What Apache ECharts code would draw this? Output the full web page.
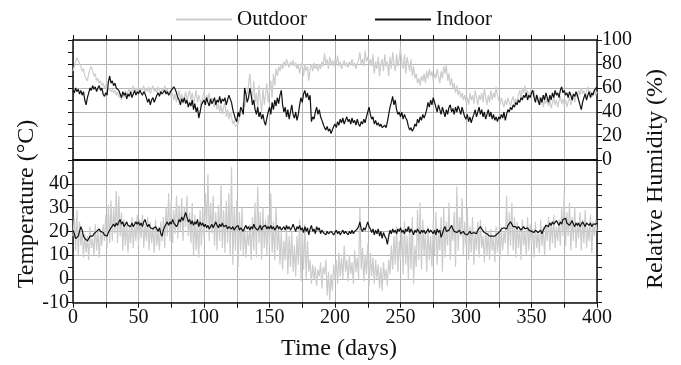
<!DOCTYPE html>
<html>
<head>
<meta charset="utf-8">
<script src="https://cdn.jsdelivr.net/npm/echarts@6/dist/echarts.min.js"></script>
<style>html,body{margin:0;padding:0;background:#fff;}#c{width:681px;height:365px;}</style>
</head>
<body>
<div id="c"></div>
<script>
// Day index = position in each array (0..400)
const rhIndoor = [
58,56,60,57,59,55,58,54,57,50,46,52,56,60,58,62,59,61,57,60,62,58,60,55,53,
56,54,65,70,64,66,62,64,60,61,58,55,52,57,54,56,51,55,53,57,52,55,58,54,57,
55,58,56,54,57,55,52,48,51,46,50,52,48,51,54,56,53,57,55,54,58,55,57,54,56,
58,57,61,59,56,52,50,46,51,48,52,47,50,44,48,45,50,42,47,40,44,35,40,46,48,
50,46,52,48,45,51,47,49,52,46,50,48,53,47,51,49,52,46,50,54,55,48,42,38,34,
32,40,36,44,42,38,60,55,48,52,60,54,46,50,42,38,44,36,40,34,38,32,29,35,40,
44,38,48,42,50,45,52,47,54,58,46,40,44,36,42,34,40,46,38,35,40,33,38,46,52,
48,55,58,52,56,50,54,32,36,34,40,44,38,42,36,33,30,27,25,28,24,26,22,25,28,
30,27,32,29,34,31,35,30,33,36,32,34,30,35,31,33,29,34,30,28,32,30,34,31,36,
40,44,38,34,36,30,33,29,31,28,30,27,26,29,27,32,38,44,48,53,46,50,42,38,40,
36,40,34,38,35,33,28,25,27,24,26,30,28,34,31,36,33,38,35,38,42,48,44,50,46,
52,48,44,40,46,42,38,44,40,36,42,38,44,46,40,43,38,44,40,45,42,38,44,40,36,
34,38,32,36,31,35,38,42,36,40,44,38,42,36,40,34,38,42,36,40,34,38,33,36,32,
36,34,38,35,40,33,38,42,40,44,42,46,44,48,46,50,48,52,50,54,52,56,50,54,52,
56,58,52,48,54,50,46,52,48,54,50,56,52,48,54,50,56,52,58,54,56,52,58,61,56,
58,54,56,52,57,54,50,55,53,57,54,50,46,42,48,52,55,50,54,57,52,56,54,58,57,
61];
const rhOutdoor = [
74,78,82,85,83,80,78,74,76,70,68,66,72,76,78,74,70,72,66,68,64,66,62,64,60,
62,58,60,61,57,59,56,58,54,57,52,55,50,56,52,58,54,57,60,55,58,62,56,60,58,
61,57,60,58,62,56,60,57,61,55,59,62,57,60,56,61,58,55,60,57,62,56,59,54,58,
52,56,50,55,48,53,58,50,55,47,52,57,49,54,58,50,56,46,52,58,48,54,50,45,52,
57,48,54,50,56,46,52,48,44,50,42,47,40,46,38,44,48,36,42,34,40,36,30,33,28,
27,30,35,38,42,48,44,52,56,62,72,58,50,66,48,56,42,62,50,40,60,46,54,64,48,
58,66,52,72,62,76,70,78,74,80,76,82,78,84,80,77,82,79,83,78,81,76,80,72,78,
82,70,80,74,78,66,76,80,74,81,76,79,74,80,76,82,78,89,80,84,76,86,80,83,78,
84,80,87,78,82,76,80,83,78,81,77,82,79,84,78,81,76,80,83,90,80,84,78,91,82,
86,80,84,78,88,72,82,76,86,70,80,84,74,88,78,82,70,86,76,90,80,74,88,78,84,
94,82,76,88,72,86,80,74,84,70,78,68,72,64,68,62,70,66,72,64,74,68,76,70,74,
66,72,68,76,70,64,74,68,78,72,79,66,72,62,68,60,64,56,62,54,58,52,56,50,54,
48,52,46,56,50,54,47,58,52,46,54,50,56,48,60,52,46,54,48,58,50,56,52,61,54,
50,46,52,48,44,50,46,52,48,45,50,53,47,51,48,54,58,52,60,56,62,54,58,52,56,
60,54,58,50,55,48,53,46,52,44,50,47,52,45,50,43,48,52,46,50,44,49,53,47,51,
45,50,44,49,52,46,50,54,48,56,52,58,54,60,55,58,52,57,61,55,58,52,56,60,54,
57];
const tempIndoor = [
20.5,19,17,16.5,18,20,22,20.5,18,17,16.5,16,17,18,18.5,18,19,18.5,20,20.5,21,20,20.5,19.5,18.5,
19,18,19.5,20,21.5,22,23,22,23.5,22.5,24,25,23,24,22,23,24,22.5,23,22,23.5,22,23,24,23,
24,22.5,23.5,22,24,25,23,22,23,21.5,22,21,20.5,22,21,20,21.5,19,18,20.5,22,23,24,22.5,24,
23,25,23.5,24,22,23,25,24,26,24.5,25,28,26,24,25,23,24.5,22.5,24,23,25,22,24,22.5,23.5,
22,23,21.5,22.5,21,22,23,21.5,22,24,22.5,21.5,23,22,23.5,22,21.5,22.5,21,22,22.5,21,22,20.5,21.5,
21,22.5,20.5,21.5,22,20,21.5,22.5,21,22,20.5,22,21,23,21.5,22,20.5,21,22.5,20.5,22,21.5,22.5,21,22,
21,22.5,21,22,20.5,21.5,22.5,21,22,20.5,21,22,20.5,22.5,21,22,20.5,21.5,23,21.5,20,22,21,22.5,20.5,
21.5,19.5,22,20,21.5,18.5,21,22.5,20,21,19,22,20.5,21.5,19,20.5,19.5,20,18.5,20,19,18.5,20,19.5,18.5,
19.5,20.5,19,20,18.5,19.5,20.5,19,20,19.5,18.5,20,19,20.5,19,20,19.5,21,22,24,21,20,21.5,20.5,21,
24,22,21,19.5,21,18.5,20.5,19,21,18,20,17,19.5,18,17,14.5,18,20.5,19,21,19.5,20.5,19,21,20,
21.5,19.5,20.5,19,21,20,22,19.5,21,20,18.5,20.5,19.5,21,20,19,20.5,19.5,20.5,19,20,21,19.5,20.5,20,
19,20.5,18.5,21,19.5,20.5,17.5,19,21,22,20,19.5,20.5,21.5,22.5,21,20,20.5,19.5,20,20.5,19,19.5,20,19,
19.5,18.5,19,20,19,18.5,19.5,20,19,20.5,21,22,21,20.5,19.5,20,19,18.5,18,17.5,18,17.5,18,18.5,19,
19.5,20,21,20.5,21.5,22,21,22.5,23,24,23,22,21.5,22,21,22,21.5,20.5,21,22,21,20.5,21.5,20.5,21,
20,20.5,19.5,20.5,20,19.5,20,20.5,19,20.5,21,22.5,23,22,23.5,22.5,24,23,22.5,24.5,23.5,22.5,24,23,25,
24.5,25.5,23.5,24,22.5,23,24.5,23,22,23.5,22.5,23.5,22,23,24,23,22,23.5,24,22.5,23.5,22,23,22.5,23,
23.5];
const tempOutdoor = [
18,26,12,29,10,24,14,20,9,19,11,18,8,22,13,17,10,23,12,21,9,20,14,23,16,
27,13,31,15,33,16,30,19,37,15,35,18,28,12,25,14,24,11,22,15,26,13,24,16,27,
14,25,17,27,13,23,16,26,12,24,15,22,11,25,14,21,12,24,16,26,13,30,18,36,16,
33,15,29,19,35,17,31,20,34,16,30,22,35,18,28,15,32,10,27,12,24,9,29,14,30,
17,36,20,44,16,32,19,35,14,28,12,31,16,40,13,29,11,33,15,36,10,47,6,30,12,
33,5,28,12,30,10,22,9,20,14,23,8,26,12,32,9,39,15,28,8,30,13,25,10,27,
14,36,11,24,8,30,12,22,6,20,4,16,8,22,2,18,5,20,3,14,1,18,6,25,-1,
20,4,23,0,16,3,8,-2,6,0,5,-3,4,1,7,-4,5,2,8,-7,3,-9,2,-5,6,
0,8,-2,11,1,9,0,14,3,8,-1,10,2,7,-2,12,3,9,0,30,4,13,-1,10,2,
15,-3,11,1,9,-2,8,0,6,-4,5,-5,7,0,4,-3,8,2,14,4,18,6,22,3,16,
8,20,2,24,6,18,0,22,4,26,-2,14,5,29,8,32,4,25,10,20,3,22,8,18,5,
24,10,28,6,20,12,26,3,30,9,24,14,32,8,22,16,28,5,39,12,26,18,34,10,24,
14,30,8,22,11,26,6,20,12,24,9,25,13,18,7,22,10,20,8,21,12,18,7,22,11,
19,9,22,12,20,15,35,10,28,14,32,12,26,9,24,13,22,8,25,14,20,10,26,12,23,
15,21,9,24,13,20,11,25,14,22,10,23,16,26,12,24,15,27,13,22,16,25,14,30,18,
36,14,28,18,32,12,26,16,30,13,24,17,28,12,25,15,29,13,22,16,27,11,24,18,25,
20];
const xTicks = [0, 50, 100, 150, 200, 250, 300, 350, 400];
const rhTicks = [0, 20, 40, 60, 80, 100];
const tempTicks = [-10, 0, 10, 20, 30, 40];

const FONT = 'Liberation Serif';
const GRID_C = '#b4b4b4';
const OUT_C = '#cccccc';
const IN_C = '#111111';
const frame = {show: true, onZero: false, lineStyle: {color: '#111', width: 1.5}};
const divider = {show: true, onZero: false, lineStyle: {color: '#111', width: 2}};

function pairs(arr) { return arr.map((v, i) => [i, v]); }

const chart = echarts.init(document.getElementById('c'), null, {renderer: 'canvas'});
chart.setOption({
  animation: false,
  backgroundColor: '#fff',
  legend: {
    data: ['Outdoor', 'Indoor'], left: 171, top: 4, icon: 'rect', itemWidth: 56, itemHeight: 2,
    itemGap: 68, textStyle: {fontFamily: FONT, fontSize: 21, color: '#111'}
  },
  grid: [
    {left: 73, right: 84, top: 40, height: 120},
    {left: 73, right: 84, top: 160, height: 142.7}
  ],
  xAxis: [
    {gridIndex: 0, type: 'value', min: 0, max: 400, interval: 25, position: 'top',
     axisLine: frame, axisTick: {show: true, inside: false, length: 5, lineStyle: {color: '#111', width: 1}},
     axisLabel: {show: false}, splitLine: {show: true, lineStyle: {color: GRID_C, width: 1}}},
    {gridIndex: 0, type: 'value', min: 0, max: 400, position: 'bottom',
     axisLine: divider, axisTick: {show: false}, axisLabel: {show: false}, splitLine: {show: false}},
    {gridIndex: 1, type: 'value', min: 0, max: 400, position: 'top',
     axisLine: divider, axisTick: {show: false}, axisLabel: {show: false}, splitLine: {show: false}},
    {gridIndex: 1, type: 'value', min: 0, max: 400, interval: 25, position: 'bottom',
     axisLine: frame, axisTick: {show: true, inside: false, length: 5, lineStyle: {color: '#111', width: 1}},
     axisLabel: {show: true, fontFamily: FONT, fontSize: 20, color: '#111', margin: 5,
       formatter: v => xTicks.indexOf(v) >= 0 ? String(v) : ''},
     splitLine: {show: true, lineStyle: {color: GRID_C, width: 1}}}
  ],
  yAxis: [
    {gridIndex: 0, type: 'value', min: 0, max: 100, interval: 10, position: 'left',
     axisLine: frame, axisTick: {show: true, inside: false, length: 5, lineStyle: {color: '#111'}},
     axisLabel: {show: false}, splitLine: {show: false}},
    {gridIndex: 0, type: 'value', min: 0, max: 100, interval: 20, position: 'right',
     axisLine: frame, axisTick: {show: true, inside: false, length: 5, lineStyle: {color: '#111'}},
     minorTick: {show: true, splitNumber: 2, length: 5, lineStyle: {color: '#111'}},
     axisLabel: {show: true, fontFamily: FONT, fontSize: 20, color: '#111', margin: 5,
       formatter: v => rhTicks.indexOf(v) >= 0 ? String(v) : ''},
     splitLine: {show: true, lineStyle: {color: GRID_C, width: 1}}},
    {gridIndex: 1, type: 'value', min: -10, max: 50, interval: 10, position: 'left',
     axisLine: frame, axisTick: {show: true, inside: false, length: 5, lineStyle: {color: '#111'}},
     minorTick: {show: true, splitNumber: 2, length: 5, lineStyle: {color: '#111'}},
     axisLabel: {show: true, fontFamily: FONT, fontSize: 20, color: '#111', margin: 4,
       formatter: v => tempTicks.indexOf(v) >= 0 ? String(v) : ''},
     splitLine: {show: true, lineStyle: {color: GRID_C, width: 1}}},
    {gridIndex: 1, type: 'value', min: -10, max: 50, interval: 10, position: 'right',
     axisLine: frame, axisTick: {show: true, inside: false, length: 5, lineStyle: {color: '#111'}},
     minorTick: {show: true, splitNumber: 2, length: 5, lineStyle: {color: '#111'}},
     axisLabel: {show: false}, splitLine: {show: false}}
  ],
  series: [
    {name: 'Outdoor', type: 'line', xAxisIndex: 0, yAxisIndex: 1, data: pairs(rhOutdoor),
     showSymbol: false, color: OUT_C, lineStyle: {color: OUT_C, width: 1.2}, z: 2},
    {name: 'Indoor', type: 'line', xAxisIndex: 0, yAxisIndex: 1, data: pairs(rhIndoor),
     showSymbol: false, color: IN_C, lineStyle: {color: IN_C, width: 1.2}, z: 3},
    {name: 'Outdoor', type: 'line', xAxisIndex: 3, yAxisIndex: 2, data: pairs(tempOutdoor),
     showSymbol: false, color: OUT_C, lineStyle: {color: OUT_C, width: 1.2}, z: 2},
    {name: 'Indoor', type: 'line', xAxisIndex: 3, yAxisIndex: 2, data: pairs(tempIndoor),
     showSymbol: false, color: IN_C, lineStyle: {color: IN_C, width: 1.2}, z: 3}
  ],
  graphic: [
    {type: 'text', x: 27, y: 204, rotation: Math.PI / 2,
     style: {text: 'Temperature (°C)', font: '24px "Liberation Serif"', fill: '#111',
       align: 'center', verticalAlign: 'middle', textAlign: 'center', textVerticalAlign: 'middle'}},
    {type: 'text', x: 656, y: 179, rotation: Math.PI / 2,
     style: {text: 'Relative Humidity (%)', font: '24px "Liberation Serif"', fill: '#111',
       align: 'center', verticalAlign: 'middle', textAlign: 'center', textVerticalAlign: 'middle'}},
    {type: 'text', x: 339, y: 349,
     style: {text: 'Time (days)', font: '24px "Liberation Serif"', fill: '#111',
       align: 'center', verticalAlign: 'middle', textAlign: 'center', textVerticalAlign: 'middle'}}
  ]
});
</script>
</body>
</html>
